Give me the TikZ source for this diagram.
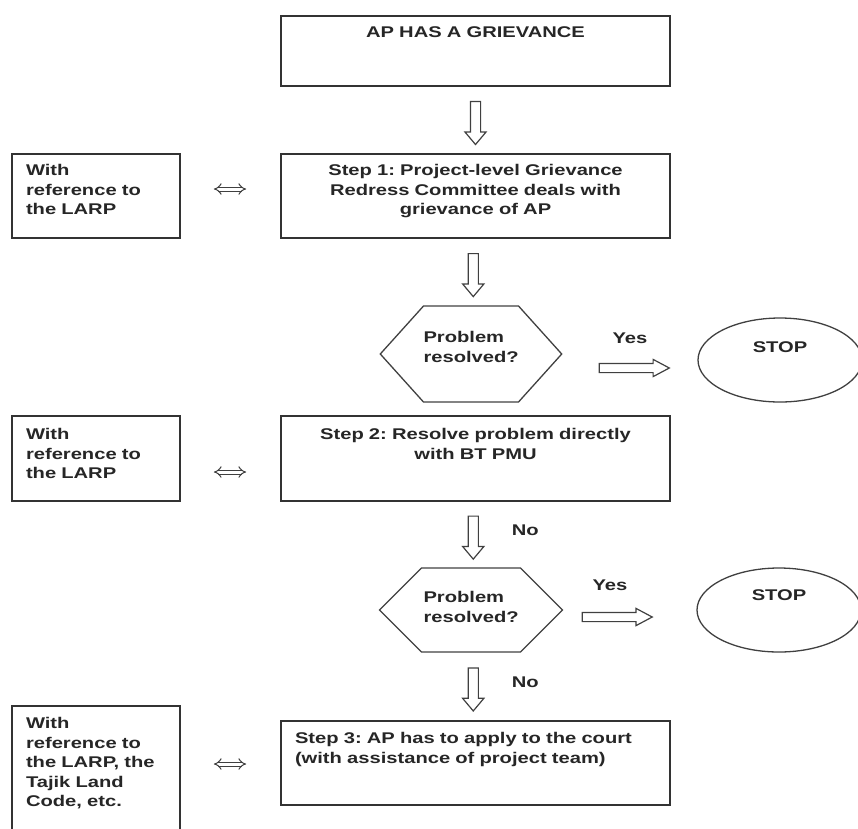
\documentclass[tikz,border=0pt]{standalone}
\usepackage{fontspec}
\newfontfamily\flowfont{Liberation Sans}[FakeStretch=1.3]
\usetikzlibrary{shapes.geometric,shapes.symbols,shapes.arrows,arrows.meta}
\frenchspacing

\tikzset{
  txt/.style={font=\flowfont\bfseries\fontsize{15.5pt}{19.5pt}\selectfont, text=black!85},
  lbl/.style={txt, inner sep=0pt, text height=11pt, text depth=0pt},
  box/.style={txt, draw=black!80, line width=1.6pt, rectangle, inner ysep=0pt, inner xsep=14pt, text width=361pt, align=center},
  refbox/.style={box, text width=140pt, align=left},
  decision/.style={txt, draw=black!75, line width=1.3pt, signal, signal to=west and east, inner ysep=0pt, inner xsep=0pt, text width=95pt, align=left},
  stop/.style={txt, draw=black!75, line width=1.3pt, ellipse, inner sep=0pt, minimum width=164pt, minimum height=84pt, text height=12pt},
  downarrow/.style={draw=black!75, line width=1.2pt, single arrow, inner sep=4.5pt, minimum width=20pt, minimum height=43pt, single arrow head extend=5.5pt, single arrow tip angle=80, shape border rotate=270},
  yesarrow/.style={draw=black!75, line width=1.2pt, single arrow, inner sep=4pt, minimum width=16pt, minimum height=70pt, single arrow head extend=4pt, single arrow tip angle=56},
  biarrow/.style={draw=black!75, line width=1pt, double, double distance=3pt, {Implies}-{Implies}, shorten <=33pt, shorten >=34pt}
}

\begin{document}
\begin{tikzpicture}[x=1pt,y=-1pt]
  \useasboundingbox (0,0) rectangle (858,828);

  \node[box, text height=21.5pt, text depth=48.5pt] (top) at (475.5,51) {AP HAS A GRIEVANCE};
  \node[box, text height=21.5pt, text depth=62.5pt, node distance=145pt] (s1) [below of=top]
    {Step 1: Project-level Grievance\\Redress Committee deals with\\grievance of AP};
  \node[refbox, text height=21.5pt, text depth=62.5pt, node distance=379.5pt] (l1) [left of=s1]
    {With\\reference to\\the LARP};
  \node[decision, text height=36.5pt, text depth=59.5pt, signal pointer angle=96, node distance=158pt, xshift=-4.5pt] (q1) [below of=s1]
    {Problem\\resolved?};
  \node[stop, text depth=27pt, node distance=309pt, yshift=-6pt] (e1) [right of=q1] {STOP};

  \node[box, text height=23.5pt, text depth=61.5pt, node distance=262.5pt] (s2) [below of=s1]
    {Step 2: Resolve problem directly\\with BT PMU};
  \node[refbox, text height=23.5pt, text depth=61.5pt, node distance=379.5pt] (l2) [left of=s2]
    {With\\reference to\\the LARP};
  \node[decision, text height=34.5pt, text depth=49.5pt, inner xsep=2pt, signal pointer angle=90, node distance=151.5pt, xshift=-4.5pt] (q2) [below of=s2]
    {Problem\\resolved?};
  \node[stop, text depth=31pt, node distance=308pt] (e2) [right of=q2] {STOP};

  \node[box, align=left, text height=22.5pt, text depth=61.5pt, node distance=304.5pt] (s3) [below of=s2]
    {Step 3: AP has to apply to the court\\(with assistance of project team)};
  \node[refbox, text height=22.5pt, text depth=116.5pt, node distance=379.5pt, yshift=-12.5pt] (l3) [left of=s3]
    {With\\reference to\\the LARP, the\\Tajik Land\\Code, etc.};

  \path (top.south) -- (s1.north) node[downarrow, midway] (a1) {};
  \path (s1.south) -- (q1.north) node[downarrow, midway] (a2) {};
  \path (s2.south) -- (q2.north) node[downarrow, midway] (a3) {};
  \path (q2.south) -- (s3.north) node[downarrow, midway] (a4) {};
  \path (q1.east) -- (e1.west) node[yesarrow, midway, yshift=-11pt] (y1) {};
  \path (q2.east) -- (e2.west) node[yesarrow, midway, xshift=-17pt, yshift=-7pt] (y2) {};

  \node[lbl, node distance=30pt] (yes1) [above of=y1] {Yes};
  \node[lbl, node distance=32pt, xshift=-3pt] (yes2) [above of=y2] {Yes};
  \node[lbl, node distance=52pt, yshift=4.5pt] (no1) [right of=a3] {No};
  \node[lbl, node distance=52pt, yshift=4.5pt] (no2) [right of=a4] {No};

  \draw[biarrow] ([yshift=7pt]l1.east) -- ([yshift=7pt]s1.west);
  \draw[biarrow] ([yshift=-13.5pt]l2.east) -- ([yshift=-13.5pt]s2.west);
  \draw[biarrow] ([yshift=-1pt]s3.west -| l3.east) -- ([yshift=-1pt]s3.west);
\end{tikzpicture}
\end{document}
